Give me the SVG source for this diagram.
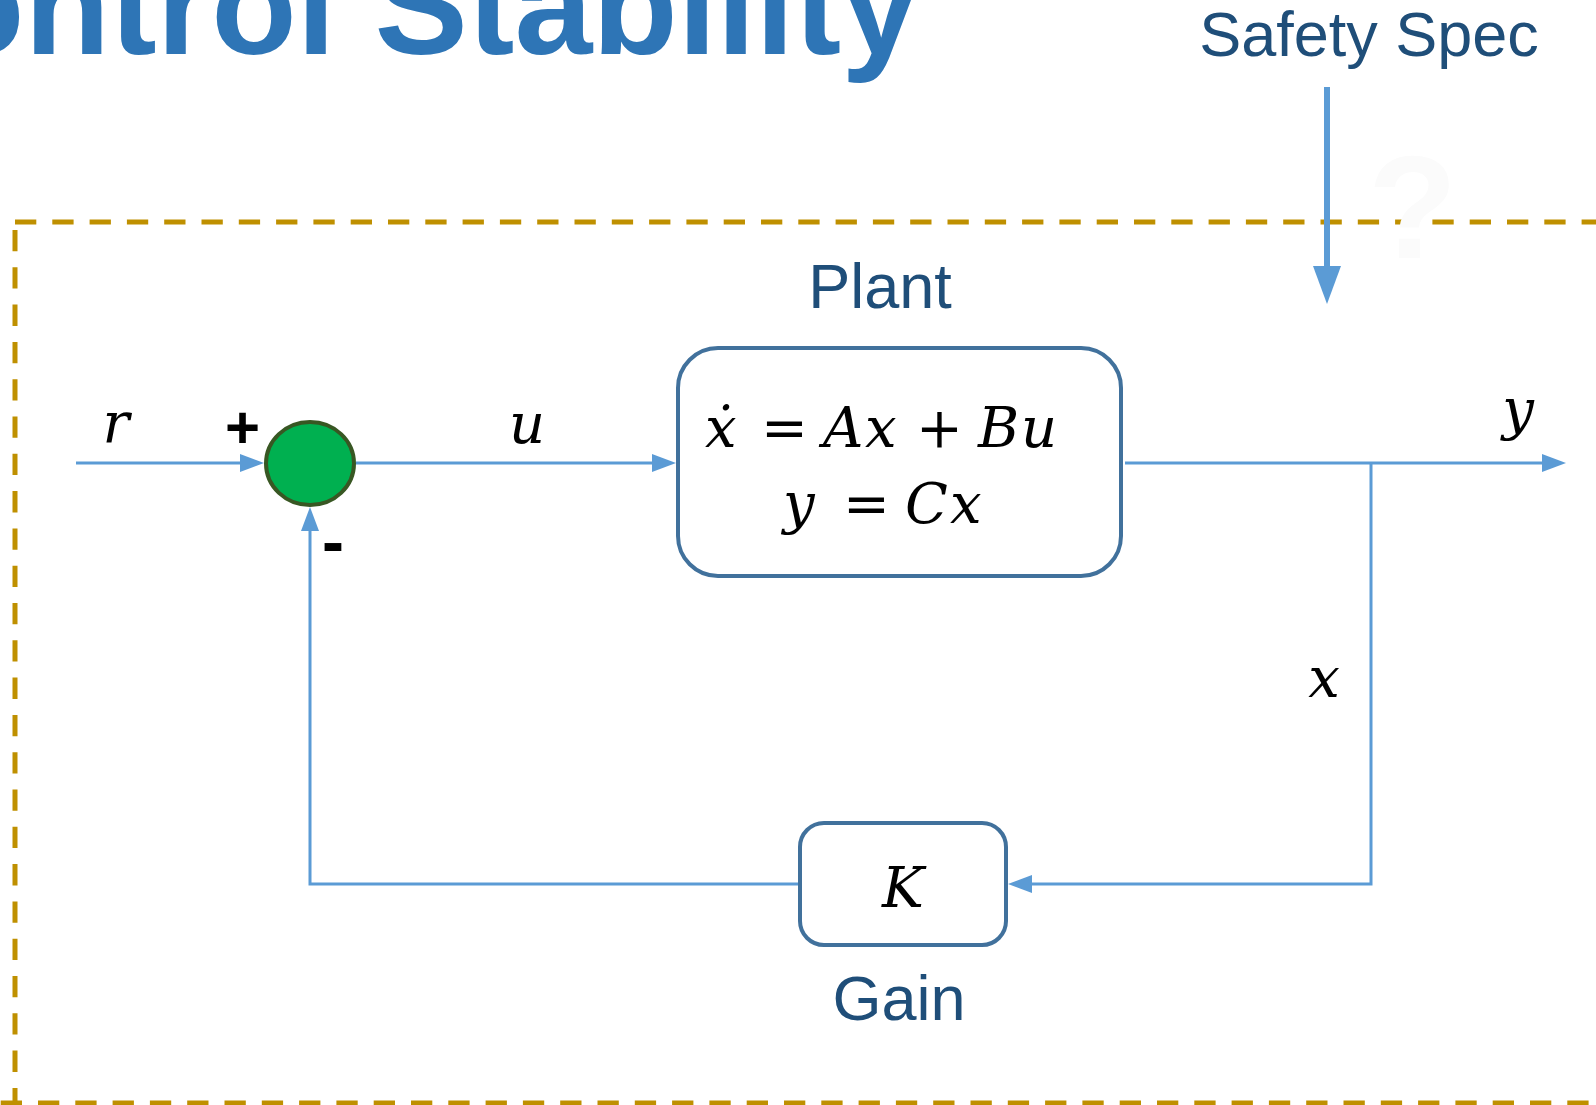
<svg xmlns="http://www.w3.org/2000/svg" width="1596" height="1105" viewBox="0 0 1596 1105">
<style>
.lbl{font-family:"Liberation Sans",Arial,sans-serif;fill:#1f4e79;font-size:63px;text-anchor:middle}
.math{font-family:"DejaVu Serif","Liberation Serif",serif;font-style:italic;font-size:56px;fill:#000}
.up{font-style:normal}
.wire{fill:none;stroke:#5b9bd5;stroke-width:3}
.box{fill:#fff;stroke:#41719c;stroke-width:4}
.dash{fill:none;stroke:#bf9000;stroke-width:5;stroke-dasharray:21.3 16}
.sign{font-family:"Liberation Sans",Arial,sans-serif;font-weight:bold;fill:#000}
</style>
<defs>
<marker id="arr" markerUnits="userSpaceOnUse" markerWidth="24" markerHeight="18" refX="16" refY="9" orient="auto">
<path d="M0,0 L24,9 L0,18 Z" fill="#5b9bd5"/>
</marker>
</defs>
<rect width="1596" height="1105" fill="#fff"/>
<text x="919" y="54" font-family="'Liberation Sans',Arial,sans-serif" font-weight="bold" font-size="140" fill="#2e75b6" text-anchor="end">ontrol Stability</text>
<g id="boundary">
<path class="dash" d="M15,222 H1610"/>
<path class="dash" d="M15,230 V1103"/>
<path class="dash" d="M0.7,1103 H1610"/>
</g>
<text x="1368" y="258" font-family="'Liberation Sans',Arial,sans-serif" font-weight="bold" font-size="146" fill="#fbfbfb">?</text>
<g id="safety-spec">
<text class="lbl" x="1369" y="56">Safety Spec</text>
</g>
<g id="connectors">
<path class="wire" d="M76,463 H256" marker-end="url(#arr)"/>
<path class="wire" d="M356,463 H668" marker-end="url(#arr)"/>
<path class="wire" d="M1125,463 H1558" marker-end="url(#arr)"/>
<path class="wire" d="M1371,463 V884 H1016" marker-end="url(#arr)"/>
<path class="wire" d="M798,884 H310 V515" marker-end="url(#arr)"/>
<path fill="none" stroke="#5b9bd5" stroke-width="6" d="M1327,87 V270"/>
<polygon points="1313,266 1341,266 1327,304" fill="#5b9bd5"/>
<text class="math" x="116" y="442" text-anchor="middle">r</text>
<text class="math" x="527" y="443" text-anchor="middle">u</text>
<text class="math" x="1518" y="429" text-anchor="middle">y</text>
<text class="math" x="1324" y="697" text-anchor="middle">x</text>
</g>
<g id="sum">
<ellipse cx="310" cy="463.5" rx="44" ry="41.5" fill="#00b050" stroke="#385723" stroke-width="4"/>
<text class="sign" x="225" y="448" font-size="60">+</text>
<text class="sign" x="322" y="564" font-size="66">-</text>
</g>
<g id="plant">
<text class="lbl" x="880" y="308">Plant</text>
<rect class="box" x="678" y="348" width="443" height="228" rx="40"/>
<text class="math" y="447"><tspan x="705">ẋ</tspan><tspan class="up" x="761">=</tspan><tspan x="823">A</tspan><tspan x="865">x</tspan><tspan class="up" x="916">+</tspan><tspan x="978">B</tspan><tspan x="1021">u</tspan></text>
<text class="math" y="523"><tspan x="783">y</tspan><tspan class="up" x="843">=</tspan><tspan x="905">C</tspan><tspan x="950">x</tspan></text>
</g>
<g id="gain">
<rect class="box" x="800" y="823" width="206" height="122" rx="24"/>
<text class="math" x="903" y="907" text-anchor="middle" font-size="57">K</text>
<text class="lbl" x="899" y="1020">Gain</text>
</g>
</svg>
